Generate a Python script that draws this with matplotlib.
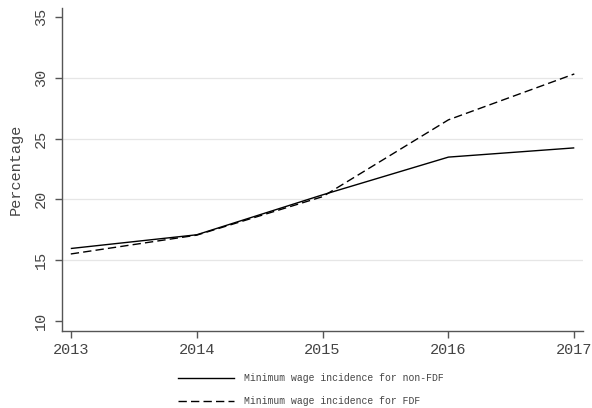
import matplotlib
matplotlib.use("Agg")
import matplotlib.pyplot as plt
from matplotlib.lines import Line2D

years = [2013, 2014, 2015, 2016, 2017]
non_fdf = [15.95, 17.08, 20.37, 23.48, 24.24]
fdf = [15.50, 17.05, 20.22, 26.55, 30.33]
series_labels = ["Minimum wage incidence for non-FDF",
                 "Minimum wage incidence for FDF"]
yticks = [10, 15, 20, 25, 30, 35]
ylabel = "Percentage"

plt.rcParams['font.family'] = ['Liberation Mono', 'DejaVu Sans Mono']

fig = plt.figure(figsize=(5.92, 4.08), dpi=100)
ax = fig.add_axes([0.1047, 0.1895, 0.8803, 0.7905])

# light horizontal gridlines at interior ticks
for v in yticks[1:-1]:
    ax.axhline(v, color="#e6e6e6", lw=0.9, zorder=0)

ln1, = ax.plot(years, non_fdf, color="black", lw=1.0, solid_capstyle="butt")
ln2, = ax.plot(years, fdf, color="black", lw=1.0)
ln2.set_dashes((6, 3))

ax.set_xlim(2012.93, 2017.07)
ax.set_ylim(9.18, 35.75)
ax.set_xticks(years)
ax.set_xticklabels([str(y) for y in years])
ax.set_yticks(yticks)
ax.set_yticklabels([str(v) for v in yticks], rotation=90, va="center")

for s in ["top", "right"]:
    ax.spines[s].set_visible(False)
for s in ["left", "bottom"]:
    ax.spines[s].set_color("#555555")
    ax.spines[s].set_linewidth(1.0)

ax.tick_params(axis="both", direction="out", length=5, width=1.0,
               color="#555555", labelsize=11, labelcolor="#444444")
ax.tick_params(axis="x", pad=4)
ax.tick_params(axis="y", pad=5)
ax.set_ylabel(ylabel, fontsize=11, color="#444444", labelpad=8)

h1 = Line2D([], [], color="black", lw=1.0)
h2 = Line2D([], [], color="black", lw=1.0)
h2.set_dashes((6, 3))
fig.legend([h1, h2], series_labels, loc="center", bbox_to_anchor=(0.525, 0.0445),
           frameon=False, fontsize=7, handlelength=5.8, handletextpad=1.0,
           labelspacing=1.35, labelcolor="#444444", borderpad=0.2)

fig.savefig("out.png", dpi=100)
